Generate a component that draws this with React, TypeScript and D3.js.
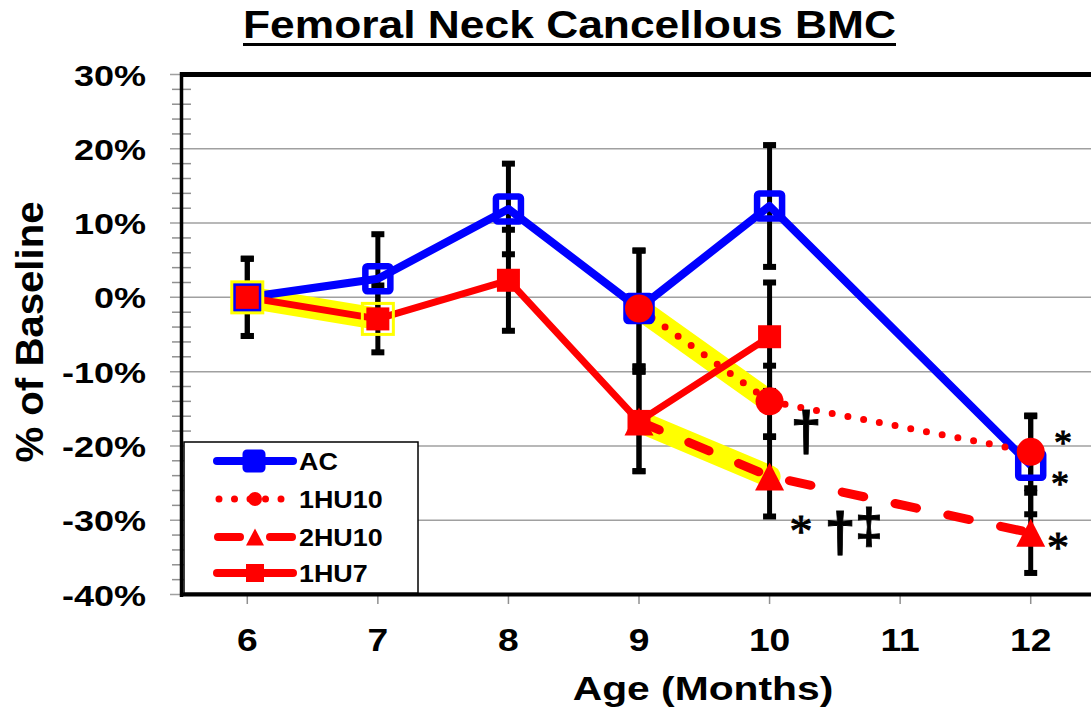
import React from 'react';
import * as d3 from 'd3';

// chart data
const months = [6, 7, 8, 9, 10, 12];
const xTicks = [6, 7, 8, 9, 10, 11, 12];
const yTicks = [-40, -30, -20, -10, 0, 10, 20, 30];

const acValues = [0, 2.5, 11.9, -1.5, 12.3, -22.6];
const acErrors = [5.2, 6.0, 6.1, 7.8, 8.2, 6.6];

const hu7Months = [6, 7, 8, 9, 10];
const hu7Values = [0, -2.9, 2.3, -16.7, -5.3];
const hu7Errors = [5.2, 4.5, 6.8, 6.7, 7.3];

const hu10Months = [9, 10, 12];
const oneHu10Values = [-1.5, -14.0, -20.8];
const oneHu10Errors = [7.8, 4.8, 4.9];
const twoHu10Values = [-16.7, -24.1, -31.7];
const twoHu10Errors = [6.7, 5.4, 5.4];

// unloading periods (highlighted in yellow)
const hu7Highlight = [6, 7];
const hu10Highlight = [9, 10];

const legendLabels = ['AC', '1HU10', '2HU10', '1HU7'];

const font = 'Liberation Sans, Arial, sans-serif';
const serif = 'Liberation Serif, serif';
const BLUE = '#0000ff';
const RED = '#ff0000';
const YELLOW = '#ffff00';

const x = d3.scaleLinear().domain([5.5, 12.5]).range([182, 1096]);
const y = d3.scaleLinear().domain([-40, 30]).range([594.5, 74.5]);

const line = d3
  .line<[number, number]>()
  .x((d) => x(d[0]))
  .y((d) => y(d[1]));

const zip = (ms: number[], vs: number[]) => ms.map((m, i) => [m, vs[i]] as [number, number]);

function ErrorBars({ ms, vs, es }: { ms: number[]; vs: number[]; es: number[] }) {
  return (
    <g>
      {ms.map((m, i) => {
        const cx = x(m);
        const top = y(vs[i] + es[i]);
        const bot = y(vs[i] - es[i]);
        return (
          <g key={i}>
            <line x1={cx} x2={cx} y1={top} y2={bot} stroke="#000" strokeWidth={5} />
            <rect x={cx - 6.5} y={top - 3} width={13} height={6} fill="#000" />
            <rect x={cx - 6.5} y={bot - 3} width={13} height={6} fill="#000" />
          </g>
        );
      })}
    </g>
  );
}

function triangle(cx: number, cy: number, w: number, h: number) {
  return `M${cx},${cy - h / 2}L${cx + w / 2},${cy + h / 2}L${cx - w / 2},${cy + h / 2}Z`;
}

function Stretch({ x0, y0, sx, anchor, size, children }: any) {
  return (
    <text
      transform={`translate(${x0},${y0}) scale(${sx},1)`}
      textAnchor={anchor}
      fontFamily={font}
      fontWeight="bold"
      fontSize={size}
      fill="#000"
    >
      {children}
    </text>
  );
}

// significance marks: [x, baseline, glyph, size, family]
const marks: [number, number, string, number, string][] = [
  [806, 450, '†', 56, font],
  [801, 547, '*', 46, serif],
  [840, 551, '†', 56, font],
  [869, 543, '‡', 50, font],
  [1063, 454.5, '*', 36, serif],
  [1060, 495.5, '*', 36, serif],
  [1058, 562, '*', 44, serif],
];

export default function App() {
  const minorTicks = d3.range(-40, 31, 2).filter((v) => v % 10 !== 0);
  const legendY = [461, 499, 537, 573];

  return (
    <svg
      width={1091}
      height={713}
      style={{ position: 'absolute', left: 0, top: 0, background: '#fff' }}
    >
      <defs>
        <clipPath id="plot">
          <rect x={150} y={60} width={941} height={560} />
        </clipPath>
      </defs>
      <rect width={1091} height={713} fill="#fff" />

      {/* title */}
      <text
        x={569.5}
        y={38}
        textAnchor="middle"
        fontFamily={font}
        fontWeight="bold"
        fontSize={38}
        textLength={653}
        lengthAdjust="spacingAndGlyphs"
      >
        Femoral Neck Cancellous BMC
      </text>
      <line x1={243} x2={896} y1={44.5} y2={44.5} stroke="#000" strokeWidth={3} />

      {/* gridlines and ticks */}
      {yTicks.map((v) => (
        <line key={v} x1={170} x2={1091} y1={y(v)} y2={y(v)} stroke="#a0a0a0" strokeWidth={1.5} />
      ))}
      {minorTicks.map((v) => (
        <line key={v} x1={172} x2={191} y1={y(v)} y2={y(v)} stroke="#909090" strokeWidth={1.5} />
      ))}
      {xTicks.map((m) => (
        <line key={m} x1={x(m)} x2={x(m)} y1={594} y2={604} stroke="#909090" strokeWidth={1.5} />
      ))}

      {/* axes / frame */}
      <line x1={181.5} x2={181.5} y1={72} y2={597} stroke="#000" strokeWidth={3.5} />
      <line x1={180} x2={1091} y1={74.5} y2={74.5} stroke="#000" strokeWidth={5} />
      <line x1={180} x2={1091} y1={594.5} y2={594.5} stroke="#000" strokeWidth={4} />

      {/* tick labels */}
      {yTicks.map((v) => (
        <Stretch key={v} x0={146} y0={y(v) + 11} sx={1.2} anchor="end" size={30}>
          {`${v}%`}
        </Stretch>
      ))}
      {xTicks.map((m) => (
        <Stretch key={m} x0={x(m)} y0={651} sx={1.2} anchor="middle" size={31}>
          {m}
        </Stretch>
      ))}
      <Stretch x0={703} y0={700} sx={1.2} anchor="middle" size={34}>
        Age (Months)
      </Stretch>
      <text
        transform="translate(43,332) rotate(-90)"
        textAnchor="middle"
        fontFamily={font}
        fontWeight="bold"
        fontSize={38}
        textLength={261}
        lengthAdjust="spacingAndGlyphs"
      >
        % of Baseline
      </text>

      <g clipPath="url(#plot)">
        {/* yellow highlights */}
        <path
          d={line(zip(hu7Highlight, hu7Values.slice(0, 2))) || ''}
          stroke={YELLOW}
          strokeWidth={22}
          fill="none"
          strokeLinecap="round"
        />
        <path
          d={line(zip(hu10Highlight, oneHu10Values.slice(0, 2))) || ''}
          stroke={YELLOW}
          strokeWidth={22}
          fill="none"
          strokeLinecap="round"
        />
        <path
          d={line(zip(hu10Highlight, twoHu10Values.slice(0, 2))) || ''}
          stroke={YELLOW}
          strokeWidth={22}
          fill="none"
          strokeLinecap="round"
        />

        {/* error bars */}
        <ErrorBars ms={months} vs={acValues} es={acErrors} />
        <ErrorBars ms={hu7Months} vs={hu7Values} es={hu7Errors} />
        <ErrorBars ms={hu10Months} vs={oneHu10Values} es={oneHu10Errors} />
        <ErrorBars ms={hu10Months} vs={twoHu10Values} es={twoHu10Errors} />

        {/* lines */}
        <path d={line(zip(months, acValues)) || ''} stroke={BLUE} strokeWidth={8} fill="none" strokeLinejoin="round" />
        <path d={line(zip(hu7Months, hu7Values)) || ''} stroke={RED} strokeWidth={7} fill="none" strokeLinejoin="round" />
        <path
          d={line(zip(hu10Months, oneHu10Values)) || ''}
          stroke={RED}
          strokeWidth={7}
          fill="none"
          strokeLinecap="round"
          strokeDasharray="0 16"
        />
        <path
          d={line(zip(hu10Months, twoHu10Values)) || ''}
          stroke={RED}
          strokeWidth={9}
          fill="none"
          strokeLinecap="round"
          strokeDasharray="22 32"
        />

        {/* markers */}
        {months.map((m, i) => (
          <rect
            key={m}
            x={x(m) - 12.5}
            y={y(acValues[i]) - 12.5}
            width={25}
            height={25}
            rx={2}
            fill="none"
            stroke={BLUE}
            strokeWidth={6.5}
          />
        ))}
        {hu10Months.map((m, i) => (
          <path key={m} d={triangle(x(m), y(twoHu10Values[i]), 29, 28)} fill={RED} />
        ))}
        {hu7Highlight.map((m, i) => (
          <rect
            key={m}
            x={x(m) - 15.5}
            y={y(hu7Values[i]) - 15.5}
            width={31}
            height={31}
            fill="none"
            stroke={YELLOW}
            strokeWidth={3}
          />
        ))}
        {hu7Months.map((m, i) => (
          <rect key={m} x={x(m) - 11.5} y={y(hu7Values[i]) - 11.5} width={23} height={23} fill={RED} />
        ))}
        {hu10Months.map((m, i) => (
          <circle key={m} cx={x(m)} cy={y(oneHu10Values[i])} r={14} fill={RED} />
        ))}
      </g>

      {/* significance marks */}
      {marks.map(([mx, my, g, s, f], i) => (
        <text
          key={i}
          x={mx}
          y={my}
          textAnchor="middle"
          fontFamily={f}
          fontWeight={f === font ? 'bold' : 'normal'}
          fontSize={s}
          stroke="#000"
          strokeWidth={f === font ? 0.8 : 1}
        >
          {g}
        </text>
      ))}

      {/* legend */}
      <rect x={184} y={442} width={234} height={151} fill="#fff" stroke="#000" strokeWidth={1.5} />
      <line x1={217} x2={293} y1={legendY[0]} y2={legendY[0]} stroke={BLUE} strokeWidth={8} strokeLinecap="round" />
      <rect x={244} y={legendY[0] - 10} width={20} height={20} rx={3} fill={BLUE} stroke={BLUE} strokeWidth={3} />
      <line
        x1={219}
        x2={293}
        y1={legendY[1]}
        y2={legendY[1]}
        stroke={RED}
        strokeWidth={7}
        strokeLinecap="round"
        strokeDasharray="0 15.5"
      />
      <circle cx={255} cy={legendY[1]} r={7} fill={RED} />
      <line
        x1={218}
        x2={292}
        y1={legendY[2]}
        y2={legendY[2]}
        stroke={RED}
        strokeWidth={8}
        strokeLinecap="round"
        strokeDasharray="22 30"
      />
      <path d={triangle(255, legendY[2], 18, 17)} fill={RED} />
      <line x1={217} x2={293} y1={legendY[3]} y2={legendY[3]} stroke={RED} strokeWidth={8} strokeLinecap="round" />
      <rect x={246} y={legendY[3] - 9} width={18} height={18} fill={RED} />
      {legendLabels.map((l, i) => (
        <Stretch key={l} x0={299} y0={legendY[i] + 9} sx={1.12} anchor="start" size={24}>
          {l}
        </Stretch>
      ))}
    </svg>
  );
}
